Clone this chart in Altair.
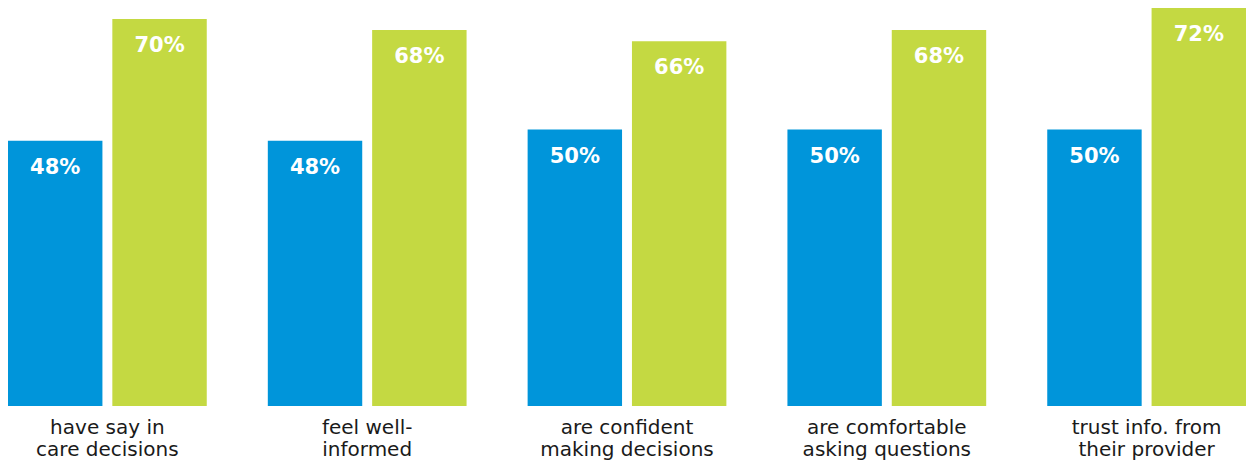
import altair as alt
import pandas as pd

categories = [
    "have say in care decisions",
    "feel well-informed",
    "are confident making decisions",
    "are comfortable asking questions",
    "trust info. from their provider",
]
label_lines = [
    "have say in\ncare decisions",
    "feel well-\ninformed",
    "are confident\nmaking decisions",
    "are comfortable\nasking questions",
    "trust info. from\ntheir provider",
]
series = ["Series A", "Series B"]
values_a = [48, 48, 50, 50, 50]
values_b = [70, 68, 66, 68, 72]
colors = ["#0095DA", "#C4D942"]

rows = []
for c, a, b in zip(categories, values_a, values_b):
    rows.append({"category": c, "series": series[0], "value": a})
    rows.append({"category": c, "series": series[1], "value": b})
df = pd.DataFrame(rows)
labels_df = pd.DataFrame({"category": categories, "label": label_lines})

W = 1238
H = 398

x = alt.X("category:N", sort=categories, axis=None,
          scale=alt.Scale(paddingInner=0.235, paddingOuter=0))
xo = alt.XOffset("series:N", sort=series,
                 scale=alt.Scale(paddingInner=0.095, paddingOuter=0))
y = alt.Y("value:Q", axis=None,
          scale=alt.Scale(domain=[0, 72], nice=False, zero=True))

bars = alt.Chart(df).mark_bar().encode(
    x=x, xOffset=xo, y=y,
    color=alt.Color("series:N", scale=alt.Scale(domain=series, range=colors), legend=None),
)

pct = alt.Chart(df).transform_calculate(
    pct="datum.value + '%'"
).mark_text(
    color="white", font="DejaVu Sans", fontWeight="bold", fontSize=21,
    baseline="alphabetic", align="center", dy=33,
).encode(x=x, xOffset=xo, y=y, text="pct:N")

cats = alt.Chart(labels_df).mark_text(
    font="DejaVu Sans", fontSize=20, lineBreak="\n", lineHeight=22,
    baseline="alphabetic", align="center", color="#1a1a1a",
).encode(x=x, y=alt.value(426), text="label:N")

chart = alt.layer(bars, pct, cats).properties(
    width=W, height=H,
    autosize=alt.AutoSizeParams(type="none"),
    padding={"left": 0, "top": 0, "right": 0, "bottom": 57},
).configure_view(stroke=None)

chart.save("out.html", embed_options={"renderer": "svg", "actions": False})
